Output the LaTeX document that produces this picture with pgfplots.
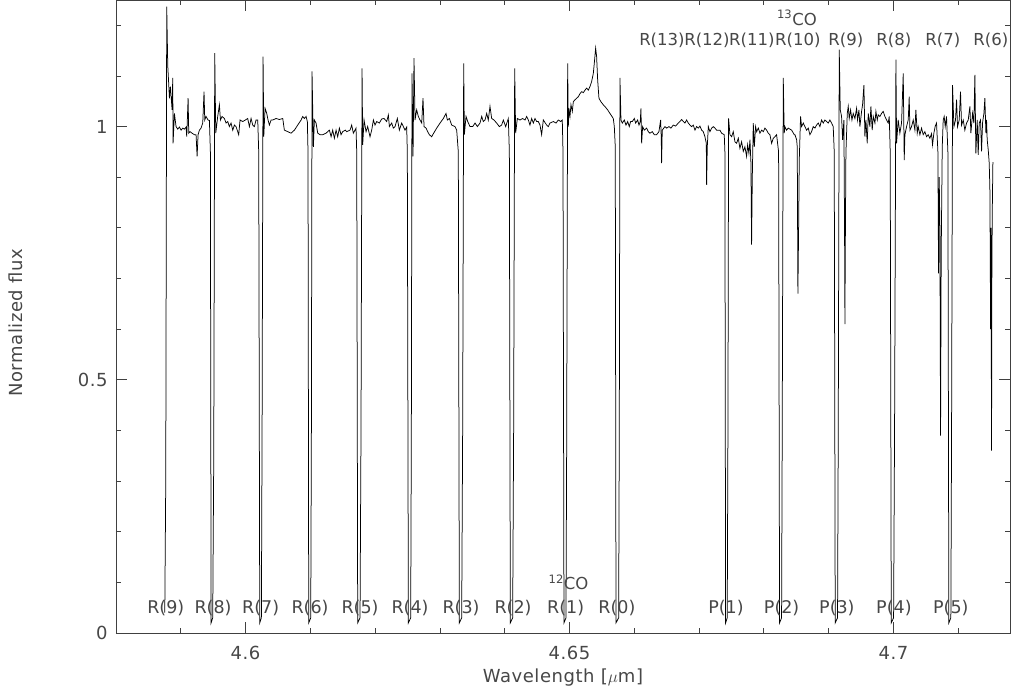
\documentclass[border=0pt]{standalone}
\usepackage{fontspec}
\setmainfont{DejaVu Sans}
\newfontfamily\widefont{DejaVu Sans}[LetterSpace=3]
\usepackage{pgfplots}
\pgfplotsset{compat=1.18}
\newcommand{\fsz}{\fontsize{16.5bp}{19bp}\selectfont}
\newcommand{\fszb}{\fontsize{17.5bp}{20bp}\selectfont}
\newcommand{\fszl}{\widefont\fontsize{18bp}{21bp}\selectfont}
\definecolor{txt}{gray}{0.28}
\begin{document}
\begin{tikzpicture}
\begin{axis}[
  scale only axis, width=894bp, height=633bp,
  at={(0,0)}, anchor=south west,
  xmin=4.58, xmax=4.718, ymin=0, ymax=1.25,
  clip=false,
  axis line style={line width=0.9bp, black!75},
  tick style={line width=0.8bp, black!75},
  tick align=inside, xtick pos=both, ytick pos=both,
  major tick length=11bp, minor tick length=5bp,
  xtick={4.6,4.65,4.7}, xticklabels={4.6,4.65,4.7},
  minor xtick={4.58,4.59,4.61,4.62,4.63,4.64,4.66,4.67,4.68,4.69,4.71},
  ytick={0,0.5,1}, yticklabels={0,0.5,1},
  minor ytick={0.1,0.2,0.3,0.4,0.6,0.7,0.8,0.9,1.1,1.2},
  xticklabel style={font=\fszl, text=txt, anchor=north, yshift=-10bp},
  yticklabel style={font=\fszl, text=txt, anchor=east, xshift=-5bp},
  every axis x label/.style={at={(axis description cs:0.5,-0.071)}, anchor=center, font=\fszl, text=txt},
  every axis y label/.style={at={(axis description cs:-0.112,0.49)}, anchor=center, rotate=90, font=\fszl, text=txt},
  xlabel={Wavelength [$\mu$m]},
  ylabel={Normalized flux},
]
\addplot[black, line width=0.75bp] coordinates {
(4.58753,0.04)(4.58768,0.30)(4.58783,1.237)(4.58799,1.12)(4.58809,1.096)(4.58825,1.056)(4.58840,1.079)(4.58866,1.033)(4.58876,1.096)(4.58881,0.967)(4.58902,1.026)(4.58927,1.000)(4.58953,0.995)(4.58979,0.999)(4.59005,0.993)(4.59030,0.997)(4.59056,0.995)(4.59082,0.999)(4.59092,0.980)(4.59113,1.056)(4.59123,0.987)(4.59143,0.990)(4.59174,0.987)(4.59210,0.984)(4.59236,0.984)(4.59252,0.941)(4.59267,0.984)(4.59288,0.993)(4.59313,0.997)(4.59339,1.007)(4.59359,1.069)(4.59370,1.013)(4.59390,1.020)(4.59421,1.013)(4.59442,1.012)
(4.59457,0.95)(4.59468,0.02)(4.59493,0.03)(4.59509,0.35)(4.59524,1.145)(4.59540,0.987)
(4.59570,1.020)(4.59596,1.043)(4.59612,1.013)(4.59637,1.020)(4.59673,1.016)(4.59699,1.007)(4.59725,1.010)(4.59750,1.000)(4.59776,1.007)(4.59802,0.993)(4.59828,1.003)(4.59853,1.000)(4.59894,0.984)(4.59915,1.013)(4.59956,1.010)(4.59997,1.013)(4.60033,1.016)(4.60059,1.000)(4.60085,1.016)(4.60111,1.003)(4.60136,1.000)(4.60162,1.013)(4.60188,1.013)
(4.60203,0.95)(4.60219,0.02)(4.60244,0.03)(4.60255,0.4)(4.60270,1.138)(4.60281,0.980)
(4.60301,1.036)(4.60327,1.026)(4.60347,1.013)(4.60368,1.003)(4.60394,1.013)(4.60419,1.013)(4.60471,1.016)(4.60522,1.014)(4.60574,1.016)(4.60599,0.993)(4.60651,0.990)(4.60702,0.987)(4.60754,0.993)(4.60805,1.003)(4.60857,1.013)(4.60882,1.020)(4.60908,1.016)(4.60934,1.020)(4.60954,1.010)
(4.60964,0.95)(4.60975,0.02)(4.61006,0.03)(4.61016,0.4)(4.61026,1.109)(4.61047,0.960)
(4.61062,1.013)(4.61088,1.007)(4.61114,0.987)(4.61150,0.984)(4.61191,0.984)(4.61242,0.987)(4.61294,0.993)(4.61320,0.980)(4.61345,0.993)(4.61371,0.977)(4.61397,0.993)(4.61422,0.980)(4.61448,0.997)(4.61474,0.984)(4.61499,0.990)(4.61541,0.993)(4.61561,0.990)(4.61613,0.993)(4.61638,1.003)(4.61664,0.987)(4.61705,0.997)
(4.61716,0.95)(4.61731,0.02)(4.61767,0.03)(4.61782,0.4)(4.61798,1.115)(4.61808,0.964)
(4.61829,1.013)(4.61860,0.990)(4.61885,1.000)(4.61921,0.980)(4.61947,0.993)(4.61973,1.013)(4.61998,1.003)(4.62024,1.010)(4.62065,1.007)(4.62101,1.015)(4.62137,1.016)(4.62179,1.010)(4.62204,1.023)(4.62220,1.000)(4.62256,1.007)(4.62281,0.997)(4.62307,1.000)(4.62343,1.016)(4.62374,0.993)(4.62410,1.007)(4.62436,1.000)(4.62461,0.993)(4.62487,0.999)
(4.62497,0.95)(4.62513,0.02)(4.62549,0.03)(4.62559,0.4)(4.62569,1.105)(4.62585,0.941)(4.62600,1.135)
(4.62616,1.013)(4.62641,1.033)(4.62667,1.020)(4.62693,1.013)(4.62719,1.007)(4.62739,1.056)(4.62755,1.000)(4.62786,0.997)(4.62811,0.990)(4.62837,0.984)(4.62873,0.980)(4.62899,0.986)(4.62950,0.997)(4.63002,1.007)(4.63053,1.016)(4.63094,1.026)(4.63115,1.013)(4.63146,1.016)(4.63182,1.003)(4.63233,1.000)(4.63259,0.993)
(4.63284,0.95)(4.63300,0.02)(4.63336,0.03)(4.63351,0.4)(4.63367,1.125)(4.63377,0.984)
(4.63403,1.020)(4.63429,1.010)(4.63465,1.000)(4.63506,1.000)(4.63542,1.007)(4.63578,1.000)(4.63619,1.007)(4.63645,1.020)(4.63670,1.010)(4.63696,1.013)(4.63722,1.026)(4.63747,1.013)(4.63773,1.040)(4.63799,1.016)(4.63835,1.013)(4.63876,1.007)(4.63917,1.000)(4.63953,1.003)(4.63979,1.013)(4.64015,1.000)(4.64056,1.016)
(4.64072,0.95)(4.64087,0.02)(4.64123,0.03)(4.64138,0.4)(4.64154,1.115)(4.64169,0.987)
(4.64195,1.016)(4.64236,1.013)(4.64277,1.016)(4.64313,1.013)(4.64339,1.020)(4.64365,1.013)(4.64390,1.003)(4.64416,1.016)(4.64442,1.007)(4.64468,1.016)(4.64493,1.010)(4.64519,1.010)(4.64545,1.003)(4.64570,0.984)(4.64596,1.013)(4.64648,1.003)(4.64673,1.000)(4.64699,1.007)(4.64751,1.010)(4.64792,1.007)(4.64828,1.013)(4.64864,1.010)(4.64889,1.013)
(4.64900,0.95)(4.64915,0.02)(4.64946,0.03)(4.64956,0.35)(4.64972,1.125)
(4.64982,1.000)(4.64992,1.036)(4.65008,1.020)(4.65023,1.043)(4.65044,1.030)(4.65059,1.049)(4.65085,1.053)(4.65111,1.056)(4.65136,1.059)(4.65162,1.065)(4.65188,1.069)(4.65214,1.067)(4.65239,1.072)(4.65265,1.076)(4.65291,1.072)(4.65316,1.079)(4.65342,1.089)(4.65368,1.105)(4.65383,1.125)(4.65404,1.155)(4.65419,1.138)(4.65435,1.092)(4.65455,1.056)(4.65486,1.049)(4.65522,1.043)(4.65558,1.038)(4.65589,1.033)(4.65625,1.026)(4.65651,1.021)(4.65676,1.016)(4.65692,1.000)(4.65707,0.960)
(4.65718,0.02)(4.65759,0.03)(4.65769,0.4)(4.65779,1.096)(4.65795,1.013)
(4.65815,1.007)(4.65846,1.013)(4.65872,1.003)(4.65898,1.010)(4.65923,1.000)(4.65944,1.010)(4.65970,1.010)(4.66001,1.016)(4.66021,1.007)(4.66052,1.013)(4.66073,1.003)(4.66093,1.010)(4.66103,1.036)(4.66114,0.967)(4.66129,1.000)(4.66155,0.993)(4.66191,0.997)(4.66217,0.990)(4.66242,0.987)(4.66278,0.990)(4.66309,0.984)(4.66345,0.984)(4.66381,0.990)(4.66407,1.013)(4.66417,0.977)(4.66422,0.928)(4.66432,0.993)(4.66474,1.000)(4.66500,0.997)(4.66536,1.000)(4.66566,0.997)(4.66602,1.003)(4.66638,1.001)(4.66680,1.007)(4.66705,1.010)(4.66731,1.014)(4.66757,1.010)(4.66782,1.007)(4.66808,1.013)(4.66834,1.007)(4.66860,1.003)(4.66885,1.000)(4.66911,1.003)(4.66937,0.993)(4.66962,1.000)(4.66988,0.997)(4.67014,1.001)(4.67040,0.993)(4.67065,0.990)(4.67091,0.980)(4.67112,0.967)(4.67117,0.885)(4.67127,0.960)(4.67143,1.000)(4.67168,0.990)(4.67194,0.997)(4.67220,1.000)(4.67245,0.997)(4.67271,0.993)(4.67297,0.993)(4.67322,0.993)(4.67348,0.987)(4.67389,0.984)
(4.67399,0.95)(4.67410,0.02)(4.67435,0.03)(4.67446,0.4)(4.67456,1.016)(4.67477,0.984)
(4.67503,0.980)(4.67528,0.990)(4.67554,0.970)(4.67580,0.967)(4.67606,0.977)(4.67631,0.957)(4.67657,0.970)(4.67683,0.951)(4.67708,0.960)(4.67734,0.941)(4.67750,0.964)(4.67770,0.947)(4.67786,0.974)(4.67801,0.928)(4.67811,0.767)(4.67822,0.900)(4.67837,1.007)(4.67853,0.960)(4.67873,1.000)(4.67889,0.990)(4.67915,0.997)(4.67940,0.987)(4.67966,0.993)(4.67992,0.990)(4.68017,0.997)(4.68043,0.993)(4.68069,0.987)(4.68094,0.984)(4.68120,0.967)(4.68146,0.977)(4.68171,0.980)(4.68197,0.984)
(4.68228,0.95)(4.68243,0.02)(4.68274,0.03)(4.68284,0.4)(4.68300,1.096)(4.68315,0.987)
(4.68325,1.000)(4.68351,0.993)(4.68377,0.997)(4.68429,0.993)(4.68470,0.984)(4.68480,0.984)(4.68506,0.974)(4.68516,0.960)(4.68526,0.67)(4.68537,0.80)(4.68547,0.934)(4.68567,1.020)(4.68583,1.000)(4.68609,1.007)(4.68634,1.000)(4.68660,0.993)(4.68686,0.997)(4.68711,0.984)(4.68737,0.990)(4.68763,1.000)(4.68789,0.997)(4.68814,1.003)(4.68840,1.007)(4.68866,1.000)(4.68891,1.013)(4.68917,1.007)(4.68943,1.013)(4.68969,1.010)(4.68994,1.007)(4.69020,1.013)(4.69046,1.007)(4.69071,1.000)
(4.69087,0.95)(4.69102,0.02)(4.69138,0.03)(4.69149,0.4)(4.69164,1.152)(4.69180,1.033)
(4.69200,1.020)(4.69216,0.974)(4.69236,1.013)(4.69246,0.80)(4.69252,0.61)(4.69257,0.75)(4.69267,0.947)(4.69288,1.026)(4.69303,1.040)(4.69318,1.016)(4.69339,1.033)(4.69360,1.013)(4.69380,1.026)(4.69406,1.016)(4.69432,1.036)(4.69447,1.013)(4.69468,1.033)(4.69483,1.000)(4.69509,1.030)(4.69524,1.043)(4.69545,1.082)(4.69560,0.980)(4.69576,1.013)(4.69596,0.967)(4.69612,1.026)(4.69637,1.000)(4.69653,1.040)(4.69673,0.993)(4.69689,1.020)(4.69715,1.007)(4.69730,1.030)(4.69751,1.013)(4.69766,1.023)(4.69792,1.020)(4.69817,1.026)(4.69843,1.030)(4.69869,1.020)(4.69895,1.013)(4.69920,1.007)(4.69936,1.020)
(4.69951,0.95)(4.69967,0.02)(4.70003,0.03)(4.70018,0.4)(4.70039,1.132)(4.70049,0.967)
(4.70074,1.013)(4.70100,0.987)(4.70126,1.007)(4.70152,1.105)(4.70167,0.934)(4.70178,0.984)(4.70203,1.000)(4.70229,1.013)(4.70244,1.059)(4.70255,0.993)(4.70280,1.000)(4.70306,1.013)(4.70332,0.993)(4.70347,1.033)(4.70368,0.987)(4.70383,1.000)(4.70409,0.984)(4.70435,0.997)(4.70460,0.984)(4.70486,0.990)(4.70512,0.980)(4.70537,0.984)(4.70563,0.977)(4.70589,0.986)(4.70604,0.964)(4.70625,0.987)(4.70646,1.001)(4.70666,1.007)
(4.70687,0.95)(4.70697,0.71)(4.70707,0.90)(4.70718,0.80)(4.70728,0.39)(4.70738,0.75)(4.70754,0.96)(4.70769,1.013)(4.70784,1.020)(4.70800,1.000)(4.70820,1.020)
(4.70841,0.95)(4.70856,0.02)(4.70887,0.03)(4.70898,0.4)(4.70913,1.082)(4.70934,1.000)
(4.70959,1.013)(4.70975,1.053)(4.70990,1.000)(4.71016,1.013)(4.71036,1.069)(4.71052,1.003)(4.71078,1.013)(4.71103,0.993)(4.71129,1.007)(4.71155,1.013)(4.71181,1.040)(4.71196,0.987)(4.71222,1.026)(4.71242,1.007)(4.71258,1.102)(4.71273,0.947)(4.71294,1.013)(4.71309,0.944)(4.71325,1.007)(4.71345,1.013)(4.71361,0.951)(4.71376,1.007)(4.71397,1.026)(4.71412,1.056)(4.71428,0.987)(4.71438,1.013)(4.71448,0.974)(4.71464,0.954)(4.71479,0.928)(4.71489,0.88)(4.71495,0.75)(4.71500,0.60)(4.71505,0.80)(4.71510,0.63)(4.71515,0.36)(4.71520,0.70)(4.71526,0.83)(4.71536,0.93)
};
% 12CO labels
\foreach \xx/\lab in {4.58768/R(9),4.59498/R(8),4.60233/R(7),4.60995/R(6),4.61767/R(5),4.62539/R(4),4.63326/R(3),4.64128/R(2),4.64941/R(1),4.65733/R(0),4.67415/P(1),4.68275/P(2),4.69128/P(3),4.70008/P(4),4.70887/P(5)}{
  \edef\tmp{\noexpand\node[font=\noexpand\fszb, text=txt, anchor=center, inner sep=0pt] at (axis cs:\xx,0.049) {\lab};}\tmp
}
\node[font=\fsz, text=txt, anchor=center, inner sep=0pt] at (axis cs:4.64985,0.100) {\textsuperscript{12}CO};
% 13CO labels
\foreach \xx/\lab in {4.66427/R(13),4.67122/R(12),4.67816/R(11),4.68526/R(10),4.69267/R(9),4.70008/R(8),4.70764/R(7),4.71505/R(6)}{
  \edef\tmp{\noexpand\node[font=\noexpand\fsz, text=txt, anchor=center, inner sep=0pt] at (axis cs:\xx,1.170) {\lab};}\tmp
}
\node[font=\fsz, text=txt, anchor=center, inner sep=0pt] at (axis cs:4.68511,1.215) {\textsuperscript{13}CO};
\end{axis}
\pgfresetboundingbox
\path[use as bounding box] (-116bp,-57bp) rectangle (896bp,633bp);
\end{tikzpicture}
\end{document}
